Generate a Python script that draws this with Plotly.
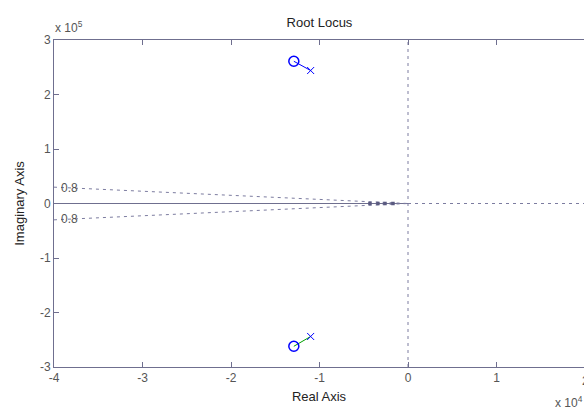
import plotly.graph_objects as go
import math

# ---- data (real units) ----
pole_re = [-1.10e4, -1.10e4]
pole_im = [2.44e5, -2.44e5]
zero_re = [-1.29e4, -1.29e4]
zero_im = [2.61e5, -2.62e5]
branch_colors = ["#0000ff", "#00a000"]
real_pts = [-0.43e4, -0.34e4, -0.26e4, -0.17e4]
damping = 0.8
x_ticks = [-4, -3, -2, -1, 0, 1, 2]
y_ticks = [-3, -2, -1, 0, 1, 2, 3]
XS, YS = 1e4, 1e5

axis_col = "#6f6f8f"
grid_col = "#7c7ca0"
txt_col = "#333333"
font = "Liberation Sans, Arial, sans-serif"

fig = go.Figure()

# real axis line: solid left of origin, dashed right
fig.add_trace(go.Scatter(x=[-4, 0], y=[0, 0], mode="lines",
                         line=dict(color=axis_col, width=1), hoverinfo="skip"))
fig.add_trace(go.Scatter(x=[0, 2], y=[0, 0], mode="lines",
                         line=dict(color=grid_col, width=1, dash="3px,4px"), hoverinfo="skip"))
# imaginary axis dashed
fig.add_trace(go.Scatter(x=[0, 0], y=[-3, 3], mode="lines",
                         line=dict(color=grid_col, width=1, dash="3px,4px"), hoverinfo="skip"))

# damping lines
slope = math.tan(math.acos(damping))
xl = -4 * XS
for sgn in (1, -1):
    yl = sgn * abs(xl) * slope
    fig.add_trace(go.Scatter(x=[xl / XS, 0], y=[yl / YS, 0], mode="lines",
                             line=dict(color=grid_col, width=1, dash="3px,4px"), hoverinfo="skip"))
    fig.add_annotation(x=-3.82, y=sgn * 0.29, text=str(damping), showarrow=False,
                       font=dict(family=font, size=12, color="#555555"))

# dense markers near origin
fig.add_trace(go.Scatter(x=[v / XS for v in real_pts], y=[0] * len(real_pts), mode="markers",
                         marker=dict(symbol="square", size=3.5, color="#5a5a80"), hoverinfo="skip"))

# locus branches
for i in range(2):
    fig.add_trace(go.Scatter(x=[pole_re[i] / XS, zero_re[i] / XS],
                             y=[pole_im[i] / YS, zero_im[i] / YS], mode="lines",
                             line=dict(color=branch_colors[i], width=1), hoverinfo="skip"))
fig.add_trace(go.Scatter(x=[v / XS for v in pole_re], y=[v / YS for v in pole_im], mode="markers",
                         marker=dict(symbol="x-thin", size=7, color="#0000ff",
                                     line=dict(color="#0000ff", width=1)),
                         hoverinfo="skip"))
fig.add_trace(go.Scatter(x=[v / XS for v in zero_re], y=[v / YS for v in zero_im], mode="markers",
                         marker=dict(symbol="circle-open", size=10, color="#0000ff",
                                     line=dict(color="#0000ff", width=1.5)),
                         hoverinfo="skip"))

fig.update_layout(
    width=584, height=412,
    margin=dict(l=54, r=0, t=40, b=45),
    plot_bgcolor="white", paper_bgcolor="white",
    showlegend=False,
    font=dict(family=font, size=12, color=txt_col),
    title=dict(text="Root Locus", x=(54 + 585) / 2 / 584, xanchor="center", y=1 - 22 / 412,
               yanchor="middle", font=dict(size=13, color="#222222")),
)
fig.update_xaxes(range=[-4, -4 + 530 / 88.5], tickvals=x_ticks, ticktext=[str(t) for t in x_ticks],
                 showgrid=False, zeroline=False, showline=True, linecolor=axis_col, linewidth=1,
                 mirror="ticks", ticks="inside", ticklen=5, tickcolor=axis_col,
                 tickfont=dict(size=12, color="#555555"),
                 title=dict(text="Real Axis", standoff=7, font=dict(size=13, color="#222222")))
fig.update_yaxes(range=[-3, 3], tickvals=y_ticks, ticktext=[str(t) for t in y_ticks],
                 showgrid=False, zeroline=False, showline=True, linecolor=axis_col, linewidth=1,
                 ticks="inside", ticklen=5, tickcolor=axis_col,
                 tickfont=dict(size=12, color="#555555"),
                 title=dict(text="Imaginary Axis", standoff=12, font=dict(size=13, color="#222222")))

fig.add_annotation(xref="paper", yref="paper", x=-1 / 530, y=1, xanchor="left", yanchor="bottom",
                   yshift=3, text="x 10<sup>5</sup>", showarrow=False,
                   font=dict(family=font, size=12, color="#555555"))
fig.add_annotation(xref="paper", yref="paper", x=(553 - 54) / 530, y=0, xanchor="left", yanchor="top",
                   yshift=-25, text="x 10<sup>4</sup>", showarrow=False,
                   font=dict(family=font, size=12, color="#555555"))
fig.add_annotation(xref="paper", yref="paper", x=(585 - 54) / 530, y=0, xanchor="center", yanchor="top",
                   yshift=-5, text="2", showarrow=False,
                   font=dict(family=font, size=12, color="#555555"))

fig.write_html("out.html")
